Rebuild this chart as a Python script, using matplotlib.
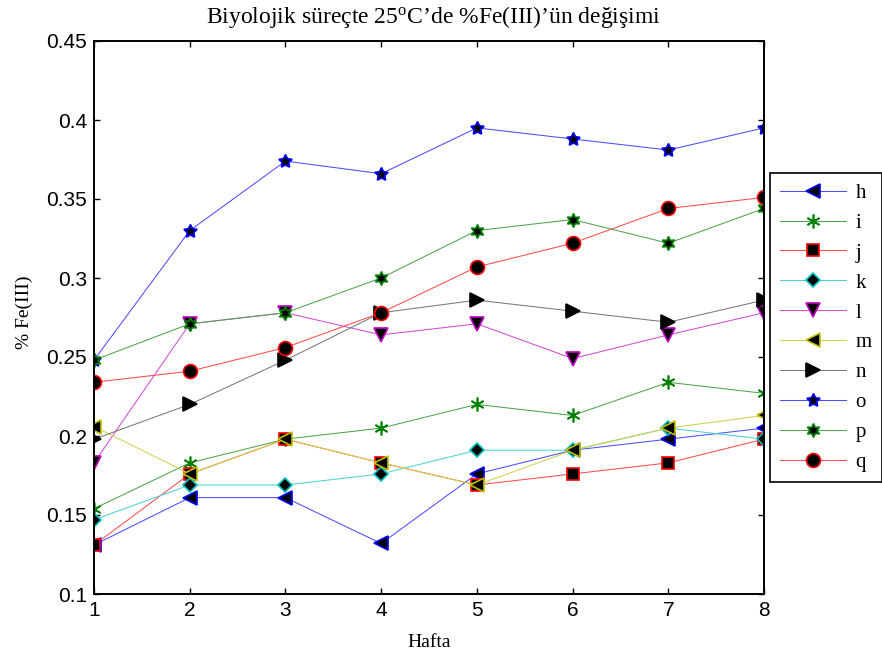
import matplotlib
matplotlib.use("Agg")
import matplotlib.pyplot as plt

plt.rcParams["mathtext.fontset"] = "custom"
plt.rcParams["mathtext.rm"] = "Liberation Serif"
plt.rcParams["mathtext.it"] = "Liberation Serif:italic"

weeks = [1, 2, 3, 4, 5, 6, 7, 8]
series_names = ["h", "i", "j", "k", "l", "m", "n", "o", "p", "q"]

h = [0.131, 0.161, 0.161, 0.132, 0.176, 0.191, 0.198, 0.205]
i = [0.154, 0.183, 0.198, 0.205, 0.220, 0.213, 0.234, 0.227]
j = [0.131, 0.176, 0.198, 0.183, 0.169, 0.176, 0.183, 0.198]
k = [0.147, 0.169, 0.169, 0.176, 0.191, 0.191, 0.205, 0.198]
l = [0.183, 0.271, 0.278, 0.264, 0.271, 0.249, 0.264, 0.278]
m = [0.206, 0.176, 0.198, 0.183, 0.169, 0.191, 0.205, 0.213]
n = [0.198, 0.220, 0.248, 0.278, 0.286, 0.279, 0.272, 0.286]
o = [0.248, 0.330, 0.374, 0.366, 0.395, 0.388, 0.381, 0.395]
p = [0.248, 0.271, 0.278, 0.300, 0.330, 0.337, 0.322, 0.344]
q = [0.234, 0.241, 0.256, 0.278, 0.307, 0.322, 0.344, 0.351]

y_ticks = [0.1, 0.15, 0.2, 0.25, 0.3, 0.35, 0.4, 0.45]
y_tick_labels = ["0.1", "0.15", "0.2", "0.25", "0.3", "0.35", "0.4", "0.45"]

values = [h, i, j, k, l, m, n, o, p, q]

# MATLAB-like default colour cycle
blue = (0, 0, 1)
green = (0, 0.5, 0)
red = (1, 0, 0)
cyan = (0, 0.75, 0.75)
magenta = (0.75, 0, 0.75)
yellow = (0.75, 0.75, 0)
dark = (0.25, 0.25, 0.25)

styles = [
    dict(color=blue, marker="<", ms=10.5, mfc="black", mec=blue),
    dict(color=green, marker=(6, 2, 0), ms=10, mfc="none", mec=green),
    dict(color=red, marker="s", ms=9, mfc="black", mec=red),
    dict(color=cyan, marker="D", ms=7, mfc="black", mec=cyan),
    dict(color=magenta, marker="v", ms=10.5, mfc="black", mec=magenta),
    dict(color=yellow, marker="<", ms=10.5, mfc="black", mec=yellow),
    dict(color=dark, marker=">", ms=10.5, mfc="black", mec="black"),
    dict(color=blue, marker=(5, 1, 0), ms=10, mfc="black", mec=blue),
    dict(color=green, marker=(6, 1, 0), ms=10, mfc="black", mec=green),
    dict(color=red, marker="o", ms=10, mfc="black", mec=red),
]

fig = plt.figure(figsize=(8.82, 6.59), dpi=100)
W, H = 882, 659
ax = fig.add_axes([94 / W, 1 - 594 / H, (764 - 94) / W, (594 - 41) / H])

for name, vals, st in zip(series_names, values, styles):
    line, = ax.plot(weeks, vals, label=name, lw=0.75, mew=1.2, **st)
    # lighter connecting line, fully opaque markers
    c = st["color"]
    line.set_color((c[0] + (1 - c[0]) * 0.3, c[1] + (1 - c[1]) * 0.3, c[2] + (1 - c[2]) * 0.3))

ax.set_xlim(1, 8)
ax.set_ylim(0.1, 0.45)
ax.set_xticks(weeks)
ax.set_xticklabels([str(w) for w in weeks], fontfamily="Liberation Sans", fontsize=15)
ax.set_yticks(y_ticks)
ax.set_yticklabels(y_tick_labels, fontfamily="Liberation Sans", fontsize=15)
ax.tick_params(direction="in", length=4, width=1, top=True, right=True)
ax.tick_params(axis="x", pad=5)
ax.tick_params(axis="y", pad=5)
for sp in ax.spines.values():
    sp.set_linewidth(1.4)

ax.set_xlabel("Hafta", fontfamily="Liberation Serif", fontsize=14)
ax.xaxis.set_label_coords(0.5, -0.072)
ax.set_ylabel("% Fe(III)", fontfamily="Liberation Serif", fontsize=14)
ax.yaxis.set_label_coords(-0.091, 0.51)

fig.text(433 / W, 1 - 17 / H,
         "Biyolojik süreçte 25$^{\\mathrm{o}}$C\u2019de %Fe(III)\u2019ün değişimi",
         fontfamily="Liberation Serif", fontsize=17, ha="center", va="center")

leg = ax.legend(loc="upper left", bbox_to_anchor=(770 / W, 1 - 173 / H),
                bbox_transform=fig.transFigure, borderaxespad=0,
                prop={"family": "Liberation Serif", "size": 15},
                handlelength=3.15, handletextpad=0.45, labelspacing=0.495,
                borderpad=0.5, fancybox=False, framealpha=1, edgecolor="black")
leg.get_frame().set_linewidth(1.2)

fig.savefig("out.png", dpi=100)
